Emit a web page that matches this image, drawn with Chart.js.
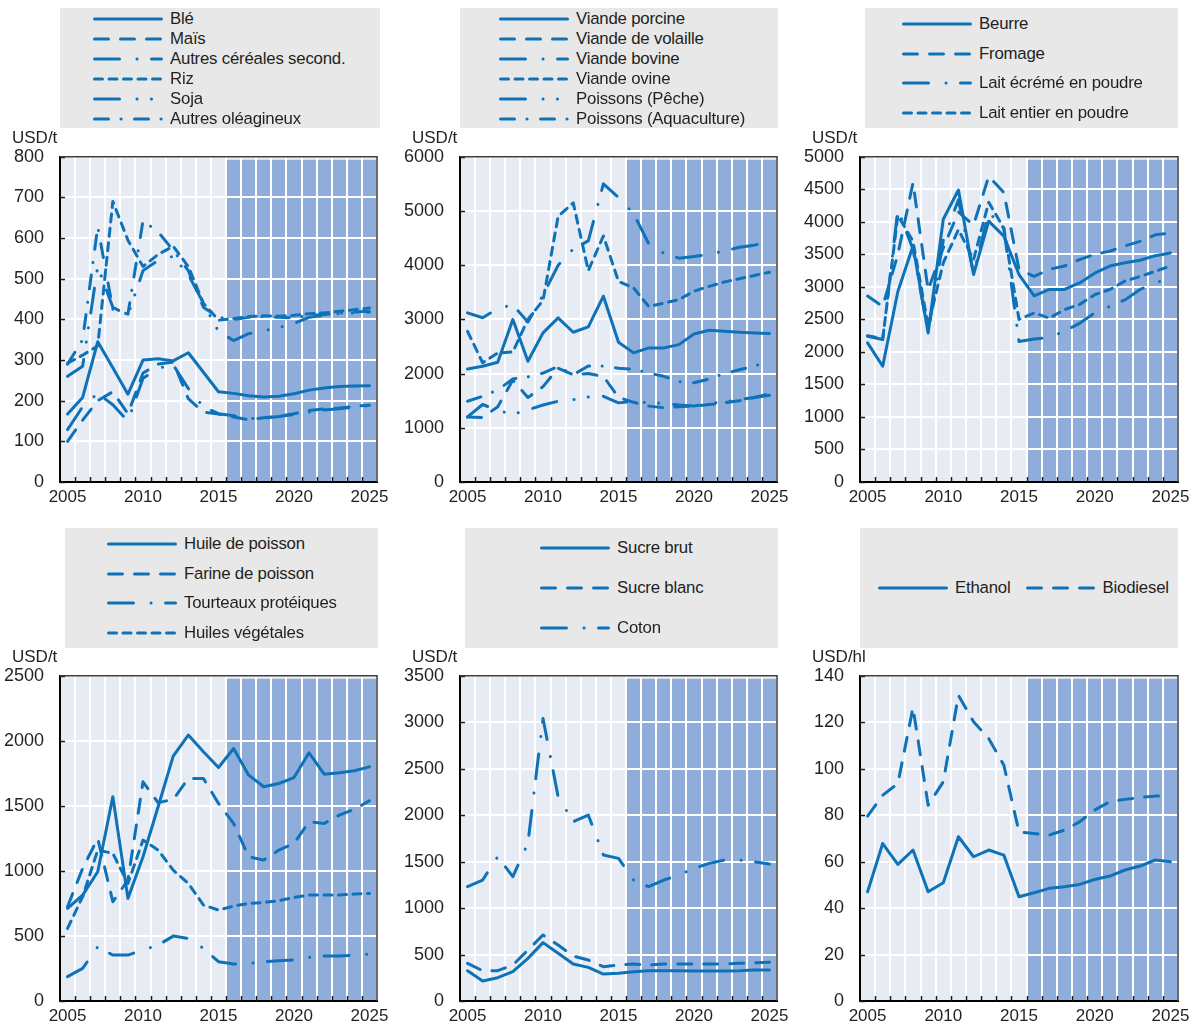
<!DOCTYPE html>
<html><head><meta charset="utf-8">
<script src="https://cdn.jsdelivr.net/npm/chart.js@4.4.0/dist/chart.umd.min.js"></script>
<style>
body{margin:0;width:1194px;height:1028px;background:#fff;position:relative;overflow:hidden;font-family:"Liberation Sans",Arial,sans-serif;}
canvas{position:absolute;}
.legend{position:absolute;background:#E8E8E9;box-sizing:border-box;display:flex;}
.legend .row{display:flex;align-items:center;white-space:nowrap;font-size:16.8px;color:#231F20;letter-spacing:-0.2px;}
.legend svg{display:block;flex:none;margin-right:7px;}
.unit{position:absolute;font-size:17px;color:#231F20;line-height:18px;}
</style></head><body>
<script>
// ---------- categories & tick labels ----------
const years = ['2005','2006','2007','2008','2009','2010','2011','2012','2013','2014','2015','2016','2017','2018','2019','2020','2021','2022','2023','2024','2025'];
const xTickYears = ['2005','2010','2015','2020','2025'];
const projectionStart = '2016';

// ---------- panel 1: cereals & oilseeds (USD/t) ----------
const ble              = [167, 208, 345, 281, 216, 300, 303, 298, 318, 270, 222, 218, 212, 209, 211, 217, 226, 231, 235, 236, 237];
const mais             = [100, 152, 200, 222, 168, 268, 290, 295, 205, 172, 167, 160, 153, 158, 162, 168, 176, 180, 182, 186, 189];
const autresCereales   = [129, 185, 218, 190, 150, 255, 280, 288, 230, 185, 168, 163, 156, 157, 161, 166, 172, 177, 180, 184, 188];
const riz              = [292, 312, 335, 690, 595, 530, 560, 580, 530, 440, 398, 402, 407, 409, 408, 410, 414, 416, 420, 424, 428];
const soja             = [260, 285, 530, 430, 410, 520, 545, 555, 510, 440, 370, 348, 365, 372, 380, 390, 405, 410, 414, 416, 418];
const autresOleagineux = [290, 350, 628, 425, 413, 643, 615, 570, 520, 430, 405, 400, 405, 407, 405, 404, 410, 412, 415, 418, 420];

// ---------- panel 2: meat & fish (USD/t) ----------
const porc         = [2086, 2135, 2209, 2997, 2228, 2751, 3028, 2763, 2862, 3428, 2578, 2382, 2474, 2474, 2535, 2732, 2800, 2782, 2763, 2751, 2739];
const volaille     = [1200, 1190, 1390, 1880, 1560, 1760, 2100, 1980, 2000, 1950, 1560, 1470, 1400, 1370, 1390, 1400, 1430, 1460, 1500, 1560, 1630];
const bovine       = [3120, 3030, 3200, 3270, 2950, 3450, 4000, 4300, 4450, 5500, 5250, 4950, 4400, 4220, 4130, 4160, 4200, 4260, 4330, 4370, 4430];
const ovine        = [2780, 2200, 2380, 2400, 3000, 3350, 4900, 5150, 3900, 4540, 3700, 3580, 3240, 3300, 3365, 3520, 3610, 3690, 3750, 3810, 3870];
const poissonPeche = [1200, 1430, 1320, 1250, 1330, 1420, 1490, 1520, 1570, 1580, 1460, 1490, 1460, 1450, 1420, 1400, 1450, 1480, 1520, 1560, 1600];
const poissonAqua  = [1490, 1580, 1700, 1900, 1940, 2010, 2130, 1980, 2140, 2140, 2100, 2080, 2010, 1950, 1850, 1830, 1900, 2000, 2070, 2140, 2230];

// ---------- panel 3: dairy (USD/t) ----------
const beurre     = [2140, 1780, 2930, 3630, 2290, 4040, 4490, 3190, 4010, 3780, 3190, 2860, 2960, 2960, 3060, 3210, 3320, 3370, 3410, 3480, 3520];
const fromage    = [2860, 2700, 3500, 4600, 2950, 3600, 4150, 3950, 4700, 4450, 3270, 3160, 3270, 3320, 3420, 3500, 3550, 3630, 3700, 3800, 3830];
const laitEcreme = [2240, 2190, 4190, 3580, 2300, 3720, 4340, 3200, 4150, 3900, 2160, 2200, 2220, 2320, 2440, 2600, 2700, 2800, 2960, 3060, 3140];
const laitEntier = [2250, 2200, 4100, 3700, 2400, 3370, 3880, 3420, 4300, 3900, 2500, 2600, 2520, 2650, 2730, 2880, 2960, 3090, 3160, 3240, 3320];

// ---------- panel 4: fish oil, meals, oils (USD/t) ----------
const huilePoisson  = [712, 814, 994, 1570, 789, 1109, 1493, 1882, 2044, 1916, 1795, 1941, 1736, 1647, 1672, 1718, 1908, 1744, 1754, 1770, 1800];
const farinePoisson = [725, 1019, 1250, 763, 930, 1685, 1525, 1549, 1711, 1711, 1519, 1365, 1109, 1083, 1160, 1211, 1378, 1365, 1429, 1473, 1539];
const tourteaux     = [187, 251, 417, 353, 353, 392, 430, 499, 481, 405, 302, 284, 289, 302, 310, 315, 335, 346, 346, 353, 361];
const huilesVeg     = [558, 802, 1160, 1135, 904, 1237, 1160, 1006, 904, 738, 699, 730, 750, 758, 771, 797, 814, 814, 814, 822, 827];

// ---------- panel 5: sugar & cotton (USD/t) ----------
const sucreBrut  = [326, 215, 251, 316, 459, 628, 513, 398, 362, 290, 298, 316, 326, 326, 326, 323, 323, 323, 326, 333, 333];
const sucreBlanc = [405, 326, 326, 387, 549, 710, 602, 484, 441, 369, 387, 398, 387, 398, 398, 398, 398, 398, 405, 412, 416];
const coton      = [1230, 1302, 1553, 1338, 1700, 3041, 2198, 1929, 2001, 1571, 1535, 1302, 1230, 1302, 1355, 1427, 1481, 1517, 1517, 1499, 1474];

// ---------- panel 6: biofuels (USD/hl) ----------
const ethanol   = [47, 67.8, 58.8, 65, 47, 50.9, 70.7, 62.1, 65, 62.8, 44.9, 46.6, 48.5, 49.2, 50.2, 52.3, 53.8, 56.4, 58.1, 60.7, 59.9];
const biodiesel = [79.6, 88.6, 93.6, 126.3, 84.3, 94.4, 131.6, 120.2, 113, 101.5, 72.8, 72.1, 71.4, 73.6, 77.1, 82.2, 85.8, 86.8, 87.6, 88.2, 88.3];

// ---------- styles ----------
const LINE = '#0E72B8';
const BG_LIGHT = '#E6EBF4';
const BG_PROJ = '#8FADDA';
const TEXT = '#231F20';
const DASH = {
  solid: [],
  dashed: [14, 12],
  dashDotLong: [25, 17.5, 0.1, 14.4],
  dense: [8, 6.5],
  dashDotDot: [25, 17.5, 0.1, 14.3, 0.1, 15],
  dashDotShort: [14, 12.5, 0.1, 13.4]
};

const decorPlugin = {
  id: 'decor',
  beforeDraw(chart) {
    const {ctx, chartArea: a, scales: {x}} = chart;
    ctx.save();
    ctx.fillStyle = BG_LIGHT;
    ctx.fillRect(a.left, a.top, a.right - a.left, a.bottom - a.top);
    const i0 = chart.data.labels.indexOf(projectionStart);
    const half = (x.getPixelForValue(1) - x.getPixelForValue(0)) / 2;
    const xs = x.getPixelForValue(i0) - half;
    ctx.fillStyle = BG_PROJ;
    ctx.fillRect(xs, a.top + 3, a.right - xs, a.bottom - a.top - 3);
    ctx.restore();
  },
  afterDraw(chart) {
    const {ctx, chartArea: a, scales: {x, y}} = chart;
    ctx.save();
    ctx.strokeStyle = '#1a1a1a';
    ctx.lineWidth = 1.5;
    const n = chart.data.labels.length;
    const half = (x.getPixelForValue(1) - x.getPixelForValue(0)) / 2;
    ctx.beginPath();
    for (let i = 1; i < n; i++) {
      const px = Math.round(x.getPixelForValue(i) - half) + 0.5;
      ctx.moveTo(px, a.bottom); ctx.lineTo(px, a.bottom - 5);
    }
    y.ticks.forEach(t => {
      const py = Math.round(y.getPixelForValue(t.value)) + 0.5;
      ctx.moveTo(a.left, py); ctx.lineTo(a.left + 5, py);
    });
    ctx.stroke();
    ctx.strokeStyle = '#3c3c3c';
    ctx.lineWidth = 1.5;
    ctx.beginPath();
    ctx.moveTo(a.left, a.top); ctx.lineTo(a.right, a.top); ctx.lineTo(a.right, a.bottom);
    ctx.stroke();
    ctx.restore();
  }
};

function dashSvg(dash) {
  const ns = 'http://www.w3.org/2000/svg';
  const svg = document.createElementNS(ns, 'svg');
  svg.setAttribute('width', '70'); svg.setAttribute('height', '12');
  const ln = document.createElementNS(ns, 'line');
  ln.setAttribute('x1', '1.5'); ln.setAttribute('x2', '68.5');
  ln.setAttribute('y1', '6'); ln.setAttribute('y2', '6');
  ln.setAttribute('stroke', LINE); ln.setAttribute('stroke-width', '3');
  ln.setAttribute('stroke-linecap', 'round');
  if (dash.length) ln.setAttribute('stroke-dasharray', dash.join(' '));
  svg.appendChild(ln);
  return svg;
}

function makePanel(p) {
  const W = (p.r - p.l) + 80, H = (p.b - p.t) + 50;
  const cv = document.createElement('canvas');
  cv.width = W; cv.height = H;
  document.body.appendChild(cv);

  const unit = document.createElement('div');
  unit.className = 'unit'; unit.textContent = p.unit;
  unit.style.left = (p.l - 48) + 'px'; unit.style.top = (p.t - 28) + 'px';
  document.body.appendChild(unit);

  const chart = new Chart(cv.getContext('2d'), {
    type: 'line',
    data: {
      labels: years,
      datasets: p.series.map(s => ({
        label: s.label, data: s.data,
        borderColor: LINE, backgroundColor: LINE, borderWidth: 3,
        borderDash: DASH[s.style], borderCapStyle: 'round', borderJoinStyle: 'round',
        pointRadius: 0, tension: 0, fill: false
      }))
    },
    options: {
      responsive: false, maintainAspectRatio: false, animation: false, devicePixelRatio: 1,
      layout: {padding: {top: 20, right: 20, left: 0, bottom: 0}},
      plugins: {legend: {display: false}, tooltip: {enabled: false}, title: {display: false}},
      scales: {
        x: {
          type: 'category', offset: true,
          grid: {offset: true, color: '#ffffff', lineWidth: 2, drawTicks: false},
          border: {display: true, color: '#000', width: 2},
          ticks: {autoSkip: false, maxRotation: 0, minRotation: 0, padding: 5, color: TEXT,
                  font: {family: 'Liberation Sans', size: 17},
                  callback: (v, i) => xTickYears.includes(years[i]) ? years[i] : ''},
          afterFit: s => { s.height = 30; }
        },
        y: {
          min: 0, max: p.yMax,
          grid: {color: '#ffffff', lineWidth: 2, drawTicks: false},
          border: {display: true, color: '#000', width: 2},
          ticks: {stepSize: p.yStep, padding: 16, color: TEXT, font: {family: 'Liberation Sans', size: 18},
                  callback: v => String(v)},
          afterFit: s => { s.width = 60; }
        }
      }
    },
    plugins: [decorPlugin]
  });

  // fit the canvas so the plot area lands exactly on the target rectangle
  for (let k = 0; k < 3; k++) {
    const a = chart.chartArea;
    const newW = Math.round((p.r - p.l) + a.left + (chart.width - a.right));
    const newH = Math.round((p.b - p.t) + a.top + (chart.height - a.bottom));
    if (newW === chart.width && newH === chart.height) break;
    chart.resize(newW, newH);
  }
  cv.style.width = chart.width + 'px'; cv.style.height = chart.height + 'px';
  cv.style.left = (p.l - chart.chartArea.left) + 'px';
  cv.style.top = (p.t - chart.chartArea.top) + 'px';

  // HTML legend built from the chart's datasets
  const lg = document.createElement('div');
  lg.className = 'legend';
  const L = p.legend;
  lg.style.left = L.x + 'px'; lg.style.top = L.y + 'px';
  lg.style.width = L.w + 'px'; lg.style.height = L.h + 'px';
  lg.style.flexDirection = L.horizontal ? 'row' : 'column';
  lg.style.paddingLeft = L.pad + 'px';
  lg.style.paddingTop = (L.padTop || 0) + 'px';
  chart.data.datasets.forEach((ds, i) => {
    const row = document.createElement('div');
    row.className = 'row';
    row.style.height = L.rowH + 'px';
    if (L.horizontal && i > 0) row.style.marginLeft = L.gap + 'px';
    row.appendChild(dashSvg(ds.borderDash));
    const sp = document.createElement('span');
    sp.textContent = ds.label;
    row.appendChild(sp);
    lg.appendChild(row);
  });
  document.body.appendChild(lg);
  return chart;
}

makePanel({l: 60, t: 157, r: 377, b: 482, yMax: 800, yStep: 100, unit: 'USD/t',
  legend: {x: 60, y: 8, w: 320, h: 120, pad: 33, rowH: 20, padTop: 1},
  series: [
    {label: 'Blé', data: ble, style: 'solid'},
    {label: 'Maïs', data: mais, style: 'dashed'},
    {label: 'Autres céréales second.', data: autresCereales, style: 'dashDotLong'},
    {label: 'Riz', data: riz, style: 'dense'},
    {label: 'Soja', data: soja, style: 'dashDotDot'},
    {label: 'Autres oléagineux', data: autresOleagineux, style: 'dashDotShort'}
  ]});

makePanel({l: 460, t: 157, r: 777, b: 482, yMax: 6000, yStep: 1000, unit: 'USD/t',
  legend: {x: 460, y: 8, w: 318, h: 120, pad: 39, rowH: 20, padTop: 1},
  series: [
    {label: 'Viande porcine', data: porc, style: 'solid'},
    {label: 'Viande de volaille', data: volaille, style: 'dashed'},
    {label: 'Viande bovine', data: bovine, style: 'dashDotLong'},
    {label: 'Viande ovine', data: ovine, style: 'dense'},
    {label: 'Poissons (Pêche)', data: poissonPeche, style: 'dashDotDot'},
    {label: 'Poissons (Aquaculture)', data: poissonAqua, style: 'dashDotShort'}
  ]});

makePanel({l: 860, t: 157, r: 1178, b: 482, yMax: 5000, yStep: 500, unit: 'USD/t',
  legend: {x: 865, y: 8, w: 313, h: 120, pad: 37, rowH: 30, padTop: 1},
  series: [
    {label: 'Beurre', data: beurre, style: 'solid'},
    {label: 'Fromage', data: fromage, style: 'dashed'},
    {label: 'Lait écrémé en poudre', data: laitEcreme, style: 'dashDotLong'},
    {label: 'Lait entier en poudre', data: laitEntier, style: 'dense'}
  ]});

makePanel({l: 60, t: 676, r: 377, b: 1001, yMax: 2500, yStep: 500, unit: 'USD/t',
  legend: {x: 65, y: 528, w: 313, h: 120, pad: 42, rowH: 30, padTop: 1},
  series: [
    {label: 'Huile de poisson', data: huilePoisson, style: 'solid'},
    {label: 'Farine de poisson', data: farinePoisson, style: 'dashed'},
    {label: 'Tourteaux protéiques', data: tourteaux, style: 'dashDotLong'},
    {label: 'Huiles végétales', data: huilesVeg, style: 'dense'}
  ]});

makePanel({l: 460, t: 676, r: 777, b: 1001, yMax: 3500, yStep: 500, unit: 'USD/t',
  legend: {x: 465, y: 528, w: 313, h: 120, pad: 75, rowH: 40},
  series: [
    {label: 'Sucre brut', data: sucreBrut, style: 'solid'},
    {label: 'Sucre blanc', data: sucreBlanc, style: 'dashed'},
    {label: 'Coton', data: coton, style: 'dashDotLong'}
  ]});

makePanel({l: 860, t: 676, r: 1178, b: 1001, yMax: 140, yStep: 20, unit: 'USD/hl',
  legend: {x: 860, y: 528, w: 318, h: 120, pad: 18, rowH: 120, horizontal: true, gap: 15},
  series: [
    {label: 'Ethanol', data: ethanol, style: 'solid'},
    {label: 'Biodiesel', data: biodiesel, style: 'dashed'}
  ]});
</script>
</body></html>
